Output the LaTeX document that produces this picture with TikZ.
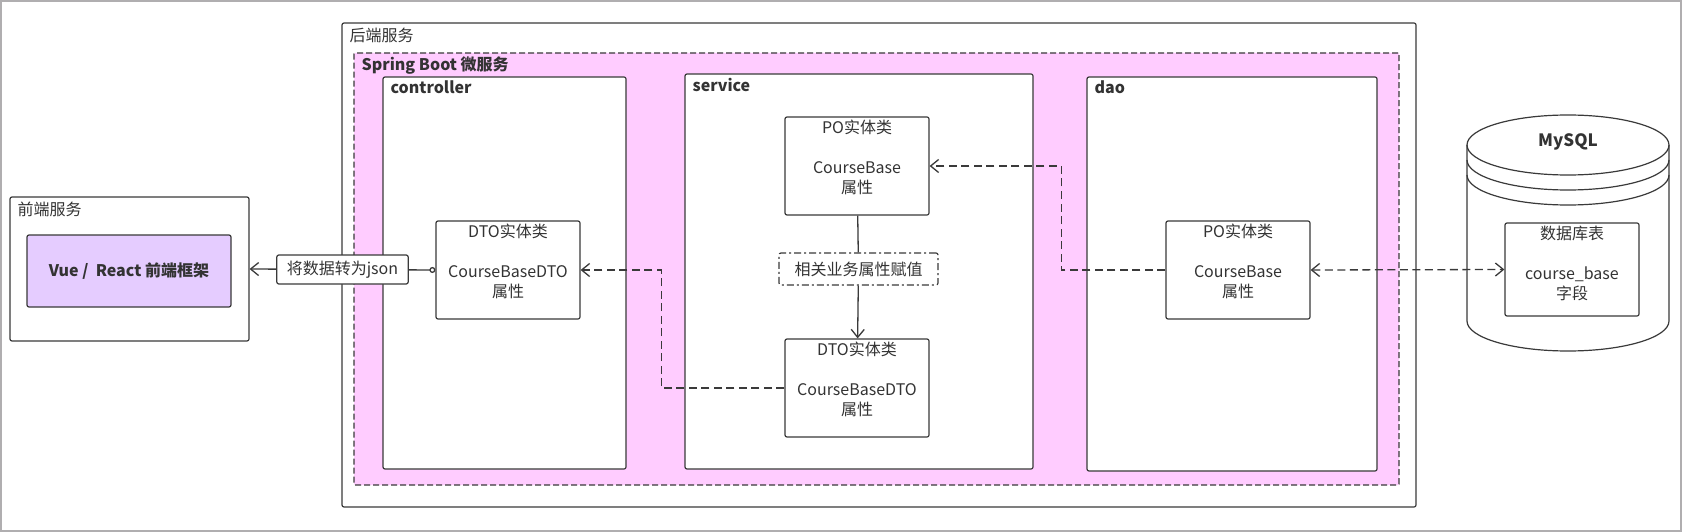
\documentclass[tikz,border=0pt]{standalone}
\usepackage{fontspec}
\setmainfont{Noto Sans CJK SC}
\usetikzlibrary{arrows.meta}
\definecolor{ink}{HTML}{333333}
\definecolor{edge}{HTML}{3A3A3A}
\definecolor{springpink}{HTML}{FFCCFF}
\definecolor{vuepurple}{HTML}{E5CCFF}
\definecolor{framegray}{HTML}{B0AEB0}
\newcommand{\bodyfont}{\fontsize{16pt}{20pt}\selectfont}

\begin{document}
\begin{tikzpicture}[x=1pt, y=-1pt,
    every node/.append style={font=\bodyfont, text=ink},
    >={Straight Barb[length=8pt, width=13pt]},
    box/.style={draw=edge, line width=1.2pt, rounded corners=2pt, fill=white},
    area/.style={box, label={[anchor=north west, inner sep=2pt, xshift=6pt, yshift=-3pt]north west:#1}},
    layer/.style={box, label={[anchor=north west, inner sep=2pt, xshift=6pt, yshift=-2.5pt, font=\bfseries\bodyfont]north west:#1}},
    entity/.style={box, minimum width=144pt, minimum height=98pt, label={[anchor=north, align=center, inner sep=2pt, yshift=-1pt]north:#1}},
    tag/.style={box, minimum height=29pt, inner xsep=10pt},
    link/.style={draw=edge, line width=1.3pt},
    flow/.style={link, dash pattern=on 8pt off 4.5pt}]
        \useasboundingbox (0,0) rectangle (1682,532);
        \draw[framegray, line width=2pt] (1,1) rectangle (1681,531);

        \node[area=前端服务, minimum width=239pt, minimum height=144pt] (front) at (129.5,269) {};
        \node[box, fill=vuepurple, minimum width=204pt, minimum height=72pt, font=\bfseries\bodyfont] (vue) at (129,271) {Vue /\ \ React 前端框架};

        \node[area=后端服务, minimum width=1074pt, minimum height=484pt] (backend) at (879,265) {};
        \node[layer=Spring Boot 微服务, fill=springpink, rounded corners=1pt, dash pattern=on 6pt off 3pt, minimum width=1045pt, minimum height=432pt] (spring) at (876.5,269) {};
        \node[layer=controller, minimum width=243pt, minimum height=392pt] (controller) at (504.5,273) {};
        \node[layer=service, minimum width=348pt, minimum height=395pt] (service) at (859,271.5) {};
        \node[layer=dao, minimum width=290pt, minimum height=394pt] (dao) at (1232,274) {};

        \node[entity={DTO实体类\\[20pt]CourseBaseDTO\\属性}] (cdto) at (508,270) {};
        \node[entity={PO实体类\\[20pt]CourseBase\\属性}] (spo) at (857,166) {};
        \node[box, dash pattern=on 7pt off 3pt on 2pt off 3pt, minimum width=159pt, minimum height=32pt] (assign) at (858.5,269) {相关业务属性赋值};
        \node[entity={DTO实体类\\[20pt]CourseBaseDTO\\属性}] (sdto) at (857,388) {};
        \node[entity={PO实体类\\[20pt]CourseBase\\属性}] (dpo) at (1238,270) {};

        \fill[white] (1467,145) -- (1467,321) arc[start angle=180, end angle=360, x radius=101pt, y radius=30pt]
            -- (1669,145) arc[start angle=0, end angle=180, x radius=101pt, y radius=30pt] -- cycle;
        \draw[link, line width=1.2pt] (1467,145) -- (1467,321) arc[start angle=180, end angle=360, x radius=101pt, y radius=30pt]
            -- (1669,145) arc[start angle=0, end angle=180, x radius=101pt, y radius=30pt];
        \draw[link, line width=1.2pt] (1467,145) arc[start angle=180, end angle=360, x radius=101pt, y radius=30pt];
        \draw[link, line width=1.2pt] (1467,160) arc[start angle=180, end angle=360, x radius=101pt, y radius=30pt];
        \draw[link, line width=1.2pt] (1467,175) arc[start angle=180, end angle=360, x radius=101pt, y radius=30pt];
        \node[font=\bfseries\fontsize{17pt}{20pt}\selectfont] (mysql) at (1568,142) {MySQL};
        \node[entity={数据库表\\[20pt]course\_base\\字段}, minimum width=134pt, minimum height=93pt] (table) at (1572,269.5) {};

        \draw[link, {Circle[open, length=6pt]}->] (cdto.west) -- node[tag] (json) {将数据转为json} (front.east);
        \draw[link] (spo) -- (assign);
        \draw[link, ->] (assign) -- (sdto);
        \draw[flow, ->] (sdto.west) -- ++(-123,0) |- (cdto.east);
        \draw[flow, ->] (dpo.west) -- ++(-104,0) |- (spo.east);
        \draw[flow, <->] (dpo.east) -- (table.west);
      \end{tikzpicture}
\end{document}
